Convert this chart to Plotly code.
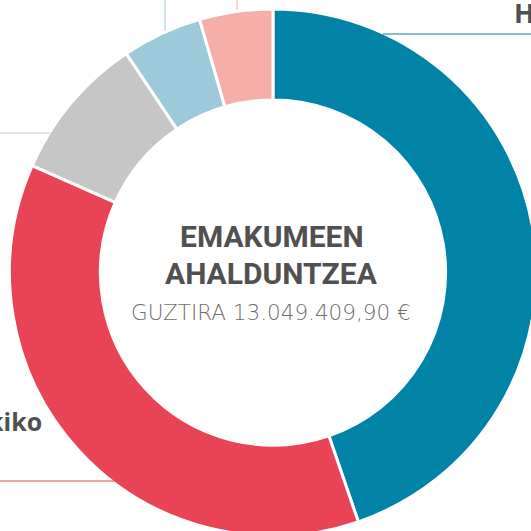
import plotly.graph_objects as go

W = H = 545  # figure a bit larger than the 531px window; the overflow is hidden

categories = ["H", "kiko", "Gris", "Urdin argia", "Arrosa"]
values = [5840000, 4815000, 1168000, 640000, 586409.90]
colors = ["#0083A6", "#E84455", "#C6C6C6", "#9CCADB", "#F5AFA8"]

title_lines = ["EMAKUMEEN", "AHALDUNTZEA"]
total_label = "GUZTIRA 13.049.409,90 €"


def px(x):
    return x / W


def py(y):
    return 1 - y / H


fig = go.Figure(go.Pie(
    labels=categories,
    values=values,
    sort=False,
    direction="clockwise",
    rotation=0,
    hole=0.655,
    marker=dict(colors=colors, line=dict(color="white", width=3)),
    textinfo="none",
    hoverinfo="label+value+percent",
    domain=dict(x=[px(9.5), px(536.5)], y=[py(536), py(9)]),
    showlegend=False,
))

shapes = [
    dict(type="line", xref="paper", yref="paper", x0=px(165), x1=px(165), y0=py(0), y1=py(31),
         line=dict(color="#9CCADB", width=1)),
    dict(type="line", xref="paper", yref="paper", x0=px(237), x1=px(237), y0=py(0), y1=py(10),
         line=dict(color="#F5AFA8", width=1)),
    dict(type="line", xref="paper", yref="paper", x0=px(0), x1=px(50), y0=py(133), y1=py(133),
         line=dict(color="#C6C6C6", width=1)),
    dict(type="line", xref="paper", yref="paper", x0=px(383), x1=px(545), y0=py(34), y1=py(34),
         line=dict(color="#0083A6", width=1)),
    dict(type="line", xref="paper", yref="paper", x0=px(0), x1=px(118), y0=py(481), y1=py(481),
         line=dict(color="#E84455", width=1)),
]

annotations = [
    dict(text="<b>" + title_lines[0] + "</b>", x=px(271.5), y=py(236), xref="paper", yref="paper",
         showarrow=False, font=dict(family="Roboto", size=30, color="#505050"),
         xanchor="center", yanchor="middle"),
    dict(text="<b>" + title_lines[1] + "</b>", x=px(271.5), y=py(273), xref="paper", yref="paper",
         showarrow=False, font=dict(family="Roboto", size=30, color="#505050"),
         xanchor="center", yanchor="middle"),
    dict(text=total_label, x=px(271), y=py(312), xref="paper", yref="paper",
         showarrow=False, font=dict(family="DejaVu Sans", size=21.5, color="#6e6e6e", weight=300),
         xanchor="center", yanchor="middle"),
    dict(text="<b>" + categories[0] + "</b>", x=px(512), y=py(13), xref="paper", yref="paper",
         showarrow=False, font=dict(family="Open Sans", size=27, color="#505050"),
         xanchor="left", yanchor="middle"),
    dict(text="<b>" + categories[1] + "</b>", x=px(44), y=py(421), xref="paper", yref="paper",
         showarrow=False, font=dict(family="Open Sans", size=25, color="#505050"),
         xanchor="right", yanchor="middle"),
]

fig.update_layout(
    width=W, height=H,
    margin=dict(l=0, r=0, t=0, b=0),
    paper_bgcolor="white",
    plot_bgcolor="white",
    shapes=shapes,
    annotations=annotations,
)

fig.write_html(
    "out.html",
    config={"displayModeBar": False},
    post_script="document.body.style.margin='0';document.body.style.overflow='hidden';",
)
